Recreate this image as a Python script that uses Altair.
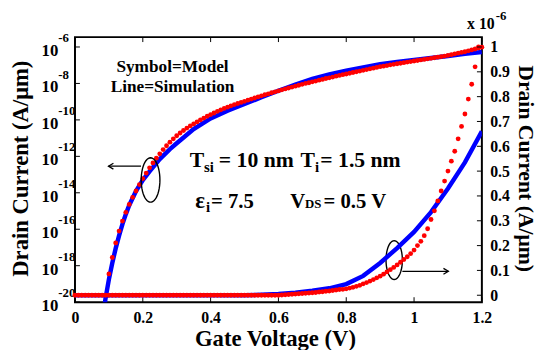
import math
import altair as alt
import pandas as pd

FONT = "Liberation Serif"
BLUE = "#0000ff"
RED = "#ff0000"

# ---------------- data ----------------
# Model (symbols), log axis: gate voltage and log10 of drain current
model_log_vg = [0.10, 0.11, 0.12, 0.13, 0.14, 0.15, 0.16, 0.17, 0.18, 0.19,
                0.20, 0.21, 0.22, 0.23, 0.24, 0.25, 0.26, 0.27, 0.28, 0.29,
                0.30, 0.31, 0.32, 0.33, 0.34, 0.35, 0.36, 0.37, 0.38, 0.39,
                0.40, 0.41, 0.42, 0.43, 0.44, 0.45, 0.46, 0.47, 0.48, 0.49,
                0.50, 0.51, 0.52, 0.53, 0.54, 0.55, 0.56, 0.57, 0.58, 0.59,
                0.60, 0.61, 0.62, 0.63, 0.64, 0.65, 0.66, 0.67, 0.68, 0.69,
                0.70, 0.71, 0.72, 0.73, 0.74, 0.75, 0.76, 0.77, 0.78, 0.79,
                0.80, 0.81, 0.82, 0.83, 0.84, 0.85, 0.86, 0.87, 0.88, 0.89,
                0.90, 0.91, 0.92, 0.93, 0.94, 0.95, 0.96, 0.97, 0.98, 0.99,
                1.00, 1.01, 1.02, 1.03, 1.04, 1.05, 1.06, 1.07, 1.08, 1.09,
                1.10, 1.11, 1.12, 1.13, 1.14, 1.15, 1.16, 1.17, 1.18, 1.19, 1.20]
model_log_exp = [-18.45, -17.55, -16.75, -16.10, -15.55, -15.07, -14.64, -14.25, -13.90, -13.55,
                 -13.22, -12.92, -12.63, -12.36, -12.10, -11.86, -11.63, -11.42, -11.22, -11.04,
                 -10.87, -10.72, -10.58, -10.45, -10.33, -10.22, -10.11, -10.00, -9.90, -9.80,
                 -9.71, -9.62, -9.53, -9.45, -9.37, -9.30, -9.23, -9.16, -9.10, -9.04,
                 -8.98, -8.92, -8.86, -8.80, -8.74, -8.68, -8.62, -8.57, -8.51, -8.46,
                 -8.41, -8.35, -8.30, -8.25, -8.20, -8.15, -8.10, -8.05, -8.00, -7.96,
                 -7.91, -7.87, -7.82, -7.78, -7.73, -7.69, -7.65, -7.60, -7.56, -7.52,
                 -7.48, -7.44, -7.40, -7.36, -7.32, -7.28, -7.24, -7.20, -7.16, -7.12,
                 -7.08, -7.05, -7.02, -6.98, -6.95, -6.92, -6.89, -6.86, -6.83, -6.80,
                 -6.77, -6.74, -6.71, -6.68, -6.65, -6.62, -6.59, -6.56, -6.53, -6.50,
                 -6.46, -6.42, -6.38, -6.34, -6.30, -6.26, -6.21, -6.16, -6.11, -6.06, -6.01]

# Simulation (line), log axis
sim_log_vg = [0.085, 0.09, 0.10, 0.11, 0.12, 0.13, 0.14, 0.15, 0.16, 0.18, 0.20, 0.22,
              0.25, 0.28, 0.30, 0.35, 0.40, 0.45, 0.50, 0.55, 0.60, 0.65, 0.70, 0.75,
              0.80, 0.85, 0.90, 0.95, 1.00, 1.05, 1.10, 1.15, 1.20]
sim_log_exp = [-20.5, -19.8, -18.75, -17.85, -17.05, -16.35, -15.72, -15.17, -14.68, -13.90,
               -13.30, -12.82, -12.15, -11.60, -11.28, -10.50, -9.92, -9.50, -9.13, -8.76,
               -8.40, -8.06, -7.75, -7.50, -7.30, -7.12, -6.95, -6.82, -6.71, -6.60,
               -6.49, -6.38, -6.27]

# Model (symbols), linear axis (x 1e-6 A/um)
model_lin_vg = [0.00, 0.01, 0.02, 0.03, 0.04, 0.05, 0.06, 0.07, 0.08, 0.09,
                0.10, 0.11, 0.12, 0.13, 0.14, 0.15, 0.16, 0.17, 0.18, 0.19,
                0.20, 0.21, 0.22, 0.23, 0.24, 0.25, 0.26, 0.27, 0.28, 0.29,
                0.30, 0.31, 0.32, 0.33, 0.34, 0.35, 0.36, 0.37, 0.38, 0.39,
                0.40, 0.41, 0.42, 0.43, 0.44, 0.45, 0.46, 0.47, 0.48, 0.49,
                0.50, 0.51, 0.52, 0.53, 0.54, 0.55, 0.56, 0.57, 0.58, 0.59,
                0.60, 0.61, 0.62, 0.63, 0.64, 0.65, 0.66, 0.67, 0.68, 0.69,
                0.70, 0.71, 0.72, 0.73, 0.74, 0.75, 0.76, 0.77, 0.78, 0.79,
                0.80, 0.81, 0.82, 0.83, 0.84, 0.85, 0.86, 0.87, 0.88, 0.89,
                0.90, 0.91, 0.92, 0.93, 0.94, 0.95, 0.96, 0.97, 0.98, 0.99,
                1.00, 1.01, 1.02, 1.03, 1.04, 1.05, 1.06, 1.07, 1.08, 1.09,
                1.10, 1.11, 1.12, 1.13, 1.14, 1.15, 1.16, 1.17, 1.18, 1.19]
model_lin_id = [0, 0, 0, 0, 0, 0, 0, 0, 0, 0,
                0, 0, 0, 0, 0, 0, 0, 0, 0, 0,
                0, 0, 0, 0, 0, 0, 0, 0, 0, 0,
                0, 0, 0, 0, 0, 0, 0, 0, 0, 0,
                0, 0, 0, 0, 0, 0, 0, 0, 0, 0,
                0, 0, 0, 0, 0, 0, 0, 0, 0, 0,
                0, 0.001, 0.002, 0.003, 0.004, 0.005, 0.006, 0.007, 0.008, 0.009,
                0.010, 0.011, 0.013, 0.014, 0.016, 0.017, 0.019, 0.021, 0.023, 0.024,
                0.026, 0.029, 0.032, 0.036, 0.040, 0.046, 0.051, 0.057, 0.063, 0.070,
                0.077, 0.085, 0.094, 0.103, 0.112, 0.122, 0.133, 0.144, 0.155, 0.168,
                0.182, 0.200, 0.217, 0.240, 0.268, 0.305, 0.340, 0.380, 0.420, 0.460,
                0.500, 0.540, 0.580, 0.630, 0.680, 0.730, 0.790, 0.850, 0.920, 1.000]

# Simulation (line), linear axis
sim_lin_vg = [0.0, 0.5, 0.55, 0.6, 0.65, 0.7, 0.75, 0.8, 0.85, 0.9, 0.95, 1.0, 1.05, 1.1, 1.15, 1.2]
sim_lin_id = [0.0, 0.0, 0.002, 0.005, 0.010, 0.018, 0.028, 0.045, 0.078, 0.130, 0.190, 0.255,
              0.335, 0.430, 0.535, 0.660]

# axis ticks / labels
x_ticks = [0, 0.2, 0.4, 0.6, 0.8, 1.0, 1.2]
left_tick_exp = [-20, -18, -16, -14, -12, -10, -8, -6]
right_ticks = [0, 0.1, 0.2, 0.3, 0.4, 0.5, 0.6, 0.7, 0.8, 0.9, 1.0]

# ---------------- tables ----------------
df_model_log = pd.DataFrame({"vg": model_log_vg, "I": [10 ** e for e in model_log_exp]})
df_sim_log = pd.DataFrame({"vg": sim_log_vg, "I": [10 ** e for e in sim_log_exp]})
df_model_lin = pd.DataFrame({"vg": model_lin_vg, "v": model_lin_id})
df_sim_lin = pd.DataFrame({"vg": sim_lin_vg, "v": sim_lin_id})
df_xt = pd.DataFrame({"vg": x_ticks})
df_lt = pd.DataFrame({"I": [10.0 ** e for e in left_tick_exp],
                      "ten": ["10"] * len(left_tick_exp),
                      "exp": [str(e) for e in left_tick_exp]})
df_rt = pd.DataFrame({"v": right_ticks})
one = pd.DataFrame({"a": [0]})

W, H = 413, 269

xs = alt.Scale(domain=[0, 1.2], nice=False, zero=False)
ys_log = alt.Scale(type="log", domain=[1e-20, 10 ** -5.459], nice=False)
ys_lin = alt.Scale(domain=[-0.0278, 1.0397], nice=False, zero=False)

x_axis = alt.Axis(values=x_ticks, format="~g", ticks=False, domain=False, grid=False,
                  labelFont=FONT, labelFontWeight="bold", labelFontSize=16, labelColor="black",
                  labelPadding=8, labelFlush=False, labelOverlap=False,
                  title="Gate Voltage (V)", titleFont=FONT, titleFontSize=23,
                  titleFontWeight="bold", titleColor="black", titleX=203, titleY=44,
                  titleBaseline="alphabetic", titleAlign="center")
left_axis = alt.Axis(orient="left", labels=False, ticks=False, domain=False, grid=False,
                     title="Drain Current (A/μm)", titleFont=FONT, titleFontSize=23,
                     titleFontWeight="bold", titleColor="black", titleX=-55, titleY=133,
                     titleAngle=270, titleBaseline="middle", titleAlign="center")
right_axis = alt.Axis(orient="right", values=right_ticks, format="~g", ticks=False,
                      domain=False, grid=False, labelFont=FONT, labelFontWeight="bold",
                      labelFontSize=16, labelColor="black", labelPadding=8,
                      labelOverlap=False, labelFlush=False,
                      title="Drain Current (A/μm)", titleFont=FONT, titleFontSize=22,
                      titleFontWeight="bold", titleColor="black", titleX=44, titleY=133,
                      titleAngle=90, titleBaseline="middle", titleAlign="center")

X = alt.X("vg:Q", scale=xs, axis=x_axis)
YL = alt.Y("I:Q", scale=ys_log, axis=left_axis)
YR = alt.Y("v:Q", scale=ys_lin, axis=right_axis)


def label(text, x, y, size, align="left"):
    return alt.Chart(one).mark_text(
        text=text, font=FONT, fontWeight="bold", fontSize=size, color="black",
        align=align, baseline="alphabetic"
    ).encode(x=alt.value(x), y=alt.value(y))


def ellipse(cx, cy, rx, ry):
    pts = []
    for k in range(48):
        t = 2 * math.pi * k / 48
        pts.append(f"{rx * math.cos(t):.2f} {ry * math.sin(t):.2f}")
    path = "M " + " L ".join(pts) + " Z"
    return alt.Chart(one).mark_point(
        shape=path, size=4, filled=False, stroke="black", strokeWidth=1.4, opacity=1
    ).encode(x=alt.value(cx), y=alt.value(cy))


def arrow(x1, x2, y):
    direction = 1 if x2 > x1 else -1
    head = f"M {-5 * direction} -3 L 0 0 L {-5 * direction} 3"
    line = alt.Chart(one).mark_rule(color="black", strokeWidth=1.3).encode(
        x=alt.value(x1), x2=alt.value(x2), y=alt.value(y))
    tip = alt.Chart(one).mark_point(
        shape=head, size=4, filled=False, stroke="black", strokeWidth=1.3, opacity=1
    ).encode(x=alt.value(x2), y=alt.value(y))
    return [line, tip]


# ---------------- left (log) layer ----------------
sim_log_line = alt.Chart(df_sim_log).mark_line(color=BLUE, strokeWidth=4.5, clip=True).encode(x=X, y=YL)
model_log_pts = alt.Chart(df_model_log).mark_circle(color=RED, size=24, opacity=1).encode(x=X, y=YL)

left_ticks = alt.Chart(df_lt).mark_rule(color="black", strokeWidth=1).encode(
    y=YL, x=alt.value(0), x2=alt.value(5))
bottom_ticks = alt.Chart(df_xt).mark_rule(color="black", strokeWidth=1).encode(
    x=X, y=alt.value(H), y2=alt.value(H - 5))
top_ticks = alt.Chart(df_xt).mark_rule(color="black", strokeWidth=1).encode(
    x=X, y=alt.value(0), y2=alt.value(5))
ten_labels = alt.Chart(df_lt).mark_text(
    font=FONT, fontWeight="bold", fontSize=17, color="black", align="right",
    baseline="middle", dy=4).encode(y=YL, x=alt.value(-17), text="ten:N")
exp_labels = alt.Chart(df_lt).mark_text(
    font=FONT, fontWeight="bold", fontSize=13, color="black", align="left",
    baseline="middle", dy=-9).encode(y=YL, x=alt.value(-17), text="exp:N")

annotations = [
    label("Symbol=Model", 99, 35.7, 17.5, align="center"),
    label("Line=Simulation", 99, 55.7, 17.5, align="center"),
    label("T", 116.5, 131.7, 22),
    label("si", 131, 137, 15),
    label("= 10 nm", 146, 131.7, 22),
    label("T", 229, 131.7, 22),
    label("i", 243.5, 137, 15),
    label("= 1.5 nm", 249, 131.7, 22),
    label("ε", 122, 173.3, 23),
    label("i", 133, 177.5, 15),
    label("= 7.5", 138, 173.3, 21),
    label("V", 218.5, 173.3, 21),
    label("DS", 233.5, 173.3, 13),
    label("= 0.5 V", 252.3, 173.3, 21),
    label("x 10", 426, -8, 16, align="right"),
    label("-6", 427, -17, 13),
    ellipse(76.7, 145, 9.5, 22.5),
    ellipse(324, 226.3, 8.3, 19.7),
] + arrow(67, 34, 131) + arrow(332.3, 379, 237.7)

layer_left = alt.layer(sim_log_line, model_log_pts, left_ticks, bottom_ticks, top_ticks,
                       ten_labels, exp_labels, *annotations)

# ---------------- right (linear) layer ----------------
sim_lin_line = alt.Chart(df_sim_lin).mark_line(color=BLUE, strokeWidth=4.5, clip=True).encode(x=X, y=YR)
model_lin_pts = alt.Chart(df_model_lin).mark_circle(color=RED, size=24, opacity=1).encode(x=X, y=YR)
right_ticks_m = alt.Chart(df_rt).mark_rule(color="black", strokeWidth=1).encode(
    y=YR, x=alt.value(W), x2=alt.value(W - 5))

layer_right = alt.layer(sim_lin_line, model_lin_pts, right_ticks_m)

chart = alt.layer(layer_left, layer_right).resolve_scale(y="independent").properties(
    width=W, height=H,
    autosize=alt.AutoSizeParams(type="none"),
    padding={"left": 68, "top": 27, "right": 59, "bottom": 46},
    background="white",
).configure_view(stroke="black", strokeWidth=2)

chart.save("out.html", embed_options={"renderer": "svg", "actions": False})
